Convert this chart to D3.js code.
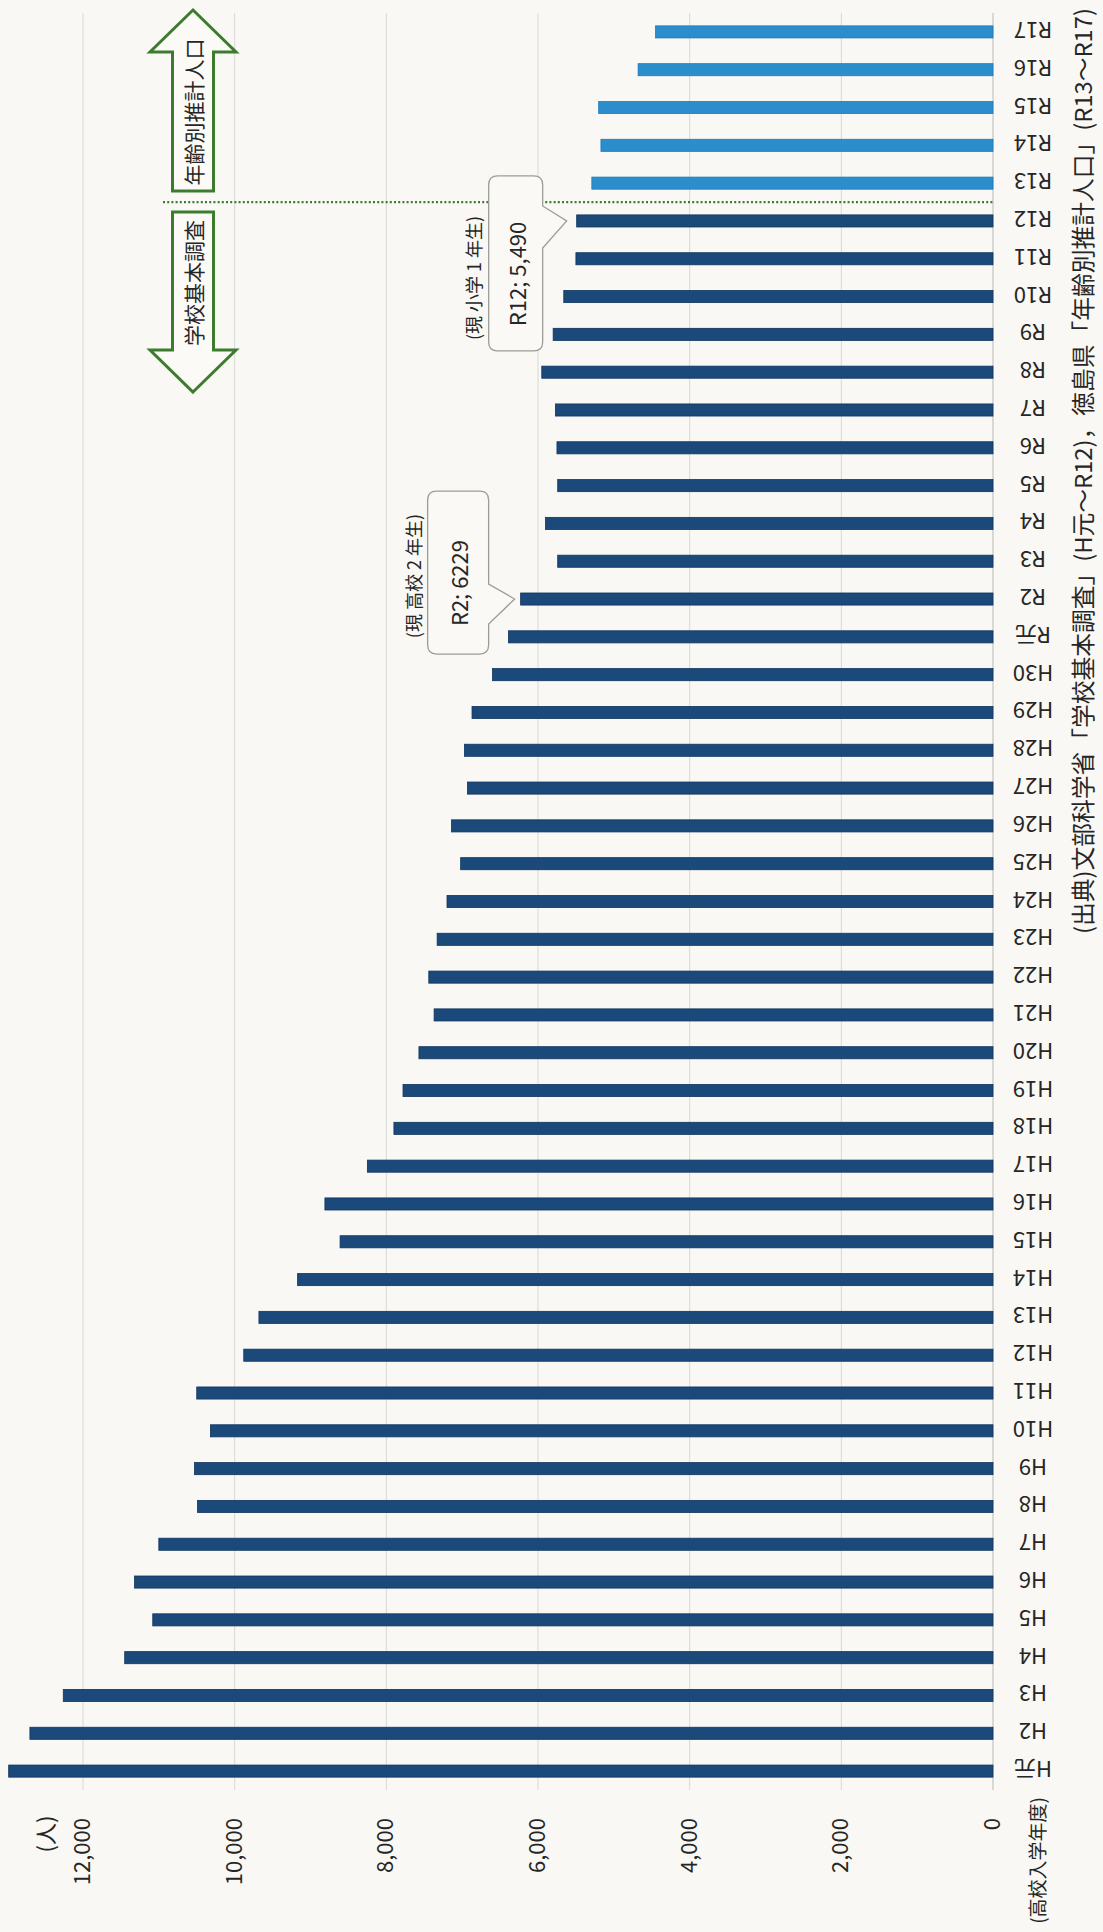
<!DOCTYPE html>
<html>
<head>
<meta charset="utf-8">
<script src="https://cdn.jsdelivr.net/npm/d3@7"></script>
<style>
  html, body { margin: 0; padding: 0; background: #f9f8f4; }
  svg { display: block; }
  text { font-family: "Noto Sans CJK JP", "Noto Sans", sans-serif; fill: #262626; }
</style>
</head>
<body>
<svg id="chart" width="1103" height="1932"></svg>
<script>
// ---------- data ----------
const categories = [
  "H元","H2","H3","H4","H5","H6","H7","H8","H9","H10",
  "H11","H12","H13","H14","H15","H16","H17","H18","H19","H20",
  "H21","H22","H23","H24","H25","H26","H27","H28","H29","H30",
  "R元","R2","R3","R4","R5","R6","R7","R8","R9","R10",
  "R11","R12","R13","R14","R15","R16","R17"
];
const students = [
  12980, 12700, 12260, 11450, 11080, 11320, 11000, 10490, 10530, 10320,
  10500, 9880, 9680, 9170, 8610, 8810, 8250, 7900, 7780, 7570,
  7370, 7440, 7330, 7200, 7020, 7140, 6930, 6970, 6870, 6600,
  6390, 6229, 5740, 5900, 5740, 5750, 5770, 5950, 5800, 5660,
  5500, 5490, 5290, 5170, 5200, 4680, 4450
];
// source: 学校基本調査 (H元〜R12) / 年齢別推計人口 (R13〜R17)
const sourceType = categories.map((c, i) => i <= 41 ? "survey" : "estimate");
const valueTicks = [0, 2000, 4000, 6000, 8000, 10000, 12000];
const firstEstimate = "R13";
const lastSurvey = "R12";
const callouts = [
  { cat: "R2",  text: "R2; 6229",   note: "(現 高校 2 年生)" },
  { cat: "R12", text: "R12; 5,490", note: "(現 小学 1 年生)" }
];
const unitLabel = "(人)";
const catAxisLabel = "(高校入学年度)";
const arrowUpLabel = "年齢別推計人口";
const arrowDownLabel = "学校基本調査";
const sourceText = "(出典)文部科学省「学校基本調査」(H元〜R12)，徳島県「年齢別推計人口」(R13〜R17)";

// ---------- layout (chart is drawn rotated: values grow to the left) ----------
const svg = d3.select("#chart");
const plotTop = 13, plotBottom = 1790;
const zeroX = 993, maxX = 83;

const x = d3.scaleLinear().domain([0, 12000]).range([zeroX, maxX]);
const y = d3.scaleBand().domain(categories).range([plotBottom, plotTop]).paddingInner(0.68).paddingOuter(0.34);
const yc = c => y(c) + y.bandwidth() / 2;

const colors = { survey: "#1b4a7a", estimate: "#2b8dcb" };
const strokeCol = { survey: "#0f3560", estimate: "#1f7cb8" };

// gridlines
svg.append("g").selectAll("line")
  .data(valueTicks.filter(v => v > 0))
  .join("line")
  .attr("x1", d => x(d)).attr("x2", d => x(d))
  .attr("y1", plotTop).attr("y2", plotBottom)
  .attr("stroke", "#d8d8d4").attr("stroke-width", 1);

// zero line
svg.append("line")
  .attr("x1", x(0)).attr("x2", x(0))
  .attr("y1", plotTop).attr("y2", plotBottom)
  .attr("stroke", "#c4c4c0").attr("stroke-width", 1.2);

// bars
svg.append("g").selectAll("rect")
  .data(categories.map((c, i) => ({ c, v: students[i], t: sourceType[i] })))
  .join("rect")
  .attr("x", d => x(d.v))
  .attr("y", d => y(d.c))
  .attr("width", d => x(0) - x(d.v))
  .attr("height", y.bandwidth())
  .attr("fill", d => colors[d.t])
  .attr("stroke", d => strokeCol[d.t])
  .attr("stroke-width", 0.8);

// category labels (upside down)
svg.append("g").selectAll("text")
  .data(categories)
  .join("text")
  .attr("transform", d => `translate(1033,${yc(d)}) rotate(180)`)
  .attr("text-anchor", "middle")
  .attr("dominant-baseline", "central")
  .attr("font-size", 22)
  .text(d => d);

// value tick labels (rotated, reading upward)
svg.append("g").selectAll("text")
  .data(valueTicks)
  .join("text")
  .attr("transform", d => `translate(${x(d) - 3},1818) rotate(-90)`)
  .attr("text-anchor", "end")
  .attr("dominant-baseline", "central")
  .attr("font-size", 22)
  .text(d => d3.format(",")(d));

// unit label
svg.append("text")
  .attr("transform", `translate(44,1834) rotate(-90)`)
  .attr("text-anchor", "middle")
  .attr("dominant-baseline", "central")
  .attr("font-size", 22)
  .text(unitLabel);

// category axis label
svg.append("text")
  .attr("transform", `translate(1036,1797) rotate(-90)`)
  .attr("text-anchor", "end")
  .attr("dominant-baseline", "central")
  .attr("font-size", 19)
  .text(catAxisLabel);

// source note
svg.append("text")
  .attr("transform", `translate(1082,934) rotate(-90)`)
  .attr("text-anchor", "start")
  .attr("dominant-baseline", "central")
  .attr("font-size", 23.5)
  .attr("textLength", 926)
  .attr("lengthAdjust", "spacingAndGlyphs")
  .text(sourceText);

// divider between survey data and estimate
const divY = (yc(lastSurvey) + yc(firstEstimate)) / 2;
const green = "#3d7c2e";
svg.append("line")
  .attr("x1", 163).attr("x2", x(0))
  .attr("y1", divY).attr("y2", divY)
  .attr("stroke", green).attr("stroke-width", 2.2)
  .attr("stroke-dasharray", "2,2.2");

// block arrows
const ax = 193, shaftHalf = 20.5, headHalf = 43;
const upBottom = divY - 11, upTip = 10, upHeadBase = 52;
const downTop = divY + 10, downHeadBase = divY + 148, downTip = divY + 190;
const upPath = `M${ax},${upTip} L${ax + headHalf},${upHeadBase} L${ax + shaftHalf},${upHeadBase} L${ax + shaftHalf},${upBottom} L${ax - shaftHalf},${upBottom} L${ax - shaftHalf},${upHeadBase} L${ax - headHalf},${upHeadBase} Z`;
const downPath = `M${ax},${downTip} L${ax + headHalf},${downHeadBase} L${ax + shaftHalf},${downHeadBase} L${ax + shaftHalf},${downTop} L${ax - shaftHalf},${downTop} L${ax - shaftHalf},${downHeadBase} L${ax - headHalf},${downHeadBase} Z`;
[upPath, downPath].forEach(p => {
  svg.append("path").attr("d", p)
    .attr("fill", "#fbfaf6").attr("stroke", green).attr("stroke-width", 3)
    .attr("stroke-linejoin", "miter");
});
svg.append("text")
  .attr("transform", `translate(${ax},${(upBottom + 33) / 2}) rotate(-90)`)
  .attr("text-anchor", "middle").attr("dominant-baseline", "central")
  .attr("font-size", 21).text(arrowUpLabel);
svg.append("text")
  .attr("transform", `translate(${ax},${(downTop + downHeadBase) / 2 + 2}) rotate(-90)`)
  .attr("text-anchor", "middle").attr("dominant-baseline", "central")
  .attr("font-size", 21).text(arrowDownLabel);

// callouts
const calloutGeom = {
  "R2":  { tipDx: -6,  right: -32, left: -93, top: -108, bottom: 55,  pa: -15, pb: 25, textDy: -16, noteDx: -108, noteDy: -23 },
  "R12": { tipDx: -10, right: -34, left: -88, top: -45,  bottom: 130, pa: -15, pb: 27, textDy: 53,  noteDx: -104, noteDy: 57 }
};
callouts.forEach(co => {
  const i = categories.indexOf(co.cat);
  const ex = x(students[i]);
  const cy = yc(co.cat);
  const g = calloutGeom[co.cat];
  const x0 = ex + g.left, x1 = ex + g.right, y0 = cy + g.top, y1 = cy + g.bottom, r = 9;
  const tipX = ex + g.tipDx, tipY = cy;
  const d = `M${x0 + r},${y0} H${x1 - r} Q${x1},${y0} ${x1},${y0 + r} V${cy + g.pa} L${tipX},${tipY} L${x1},${cy + g.pb} V${y1 - r} Q${x1},${y1} ${x1 - r},${y1} H${x0 + r} Q${x0},${y1} ${x0},${y1 - r} V${y0 + r} Q${x0},${y0} ${x0 + r},${y0} Z`;
  svg.append("path").attr("d", d)
    .attr("fill", "#faf9f5").attr("stroke", "#9c9c98").attr("stroke-width", 1.3);
  svg.append("text")
    .attr("transform", `translate(${(x0 + x1) / 2},${cy + g.textDy}) rotate(-90)`)
    .attr("text-anchor", "middle").attr("dominant-baseline", "central")
    .attr("font-size", 22).text(co.text);
  svg.append("text")
    .attr("transform", `translate(${ex + g.noteDx},${cy + g.noteDy}) rotate(-90)`)
    .attr("text-anchor", "middle").attr("dominant-baseline", "central")
    .attr("font-size", 18).text(co.note);
});
</script>
</body>
</html>
